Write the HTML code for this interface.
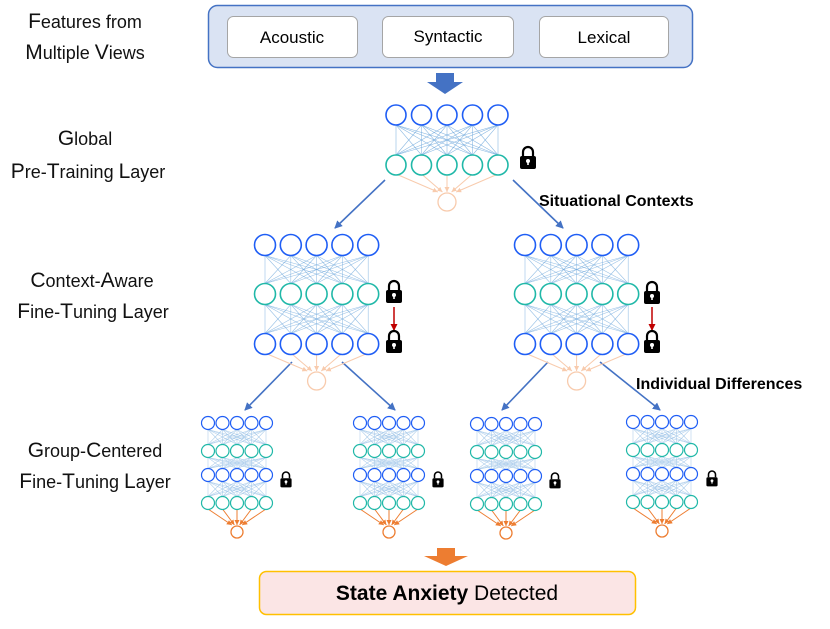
<!DOCTYPE html>
<html><head><meta charset="utf-8"><style>
html,body{margin:0;padding:0;background:#fff;width:830px;height:629px;overflow:hidden}
svg{display:block}
text{font-family:"Liberation Sans",sans-serif}
</style></head><body>
<svg id="s" width="830" height="629" viewBox="0 0 830 629" xmlns="http://www.w3.org/2000/svg">
<defs>
<marker id="ab" markerWidth="8" markerHeight="8" refX="7" refY="4" orient="auto" markerUnits="userSpaceOnUse"><path d="M0,0L8,4L0,8z" fill="#4472c4"/></marker>
<marker id="ar" markerWidth="7" markerHeight="7" refX="6" refY="3.5" orient="auto" markerUnits="userSpaceOnUse"><path d="M0,0L7,3.5L0,7z" fill="#c00000"/></marker>
<marker id="ao" markerWidth="5" markerHeight="5" refX="5" refY="2.5" orient="auto" markerUnits="userSpaceOnUse"><path d="M0,0L5,2.5L0,5z" fill="#ed7d31"/></marker>
<marker id="ap" markerWidth="5" markerHeight="5" refX="5" refY="2.5" orient="auto" markerUnits="userSpaceOnUse"><path d="M0,0L5,2.5L0,5z" fill="#f8cbad"/></marker>
</defs>
<rect x="208.5" y="5.5" width="484" height="62" rx="9" fill="#dae3f3" stroke="#4472c4" stroke-width="1.5"/>
<rect x="227.5" y="16.5" width="130" height="41" rx="6" fill="#fff" stroke="#a5a5a5"/>
<rect x="382.5" y="16.5" width="131" height="41" rx="6" fill="#fff" stroke="#a5a5a5"/>
<rect x="539.5" y="16.5" width="129" height="41" rx="6" fill="#fff" stroke="#a5a5a5"/>
<text x="292" y="43" font-size="17" text-anchor="middle">Acoustic</text>
<text x="448" y="42" font-size="17" text-anchor="middle">Syntactic</text>
<text x="604" y="43" font-size="17" text-anchor="middle">Lexical</text>
<path d="M436,73h18v9h9l-18,12l-18,-12h9z" fill="#4472c4"/>
<path d="M437,548h18v8h13l-22,10l-22,-10h13z" fill="#ed7d31"/>
<rect x="259.5" y="571.5" width="376" height="43" rx="7" fill="#fbe5e5" stroke="#ffc000" stroke-width="1.5"/>
<text x="447" y="600" font-size="21" text-anchor="middle"><tspan font-weight="bold">State Anxiety</tspan> Detected</text>
<g font-size="18" text-anchor="middle" fill="#111">
<text x="85" y="28"><tspan font-size="21">F</tspan>eatures from</text>
<text x="85" y="59"><tspan font-size="21">M</tspan>ultiple <tspan font-size="21">V</tspan>iews</text>
<text x="85" y="145"><tspan font-size="21">G</tspan>lobal</text>
<text x="88" y="178"><tspan font-size="21">P</tspan>re-<tspan font-size="21">T</tspan>raining <tspan font-size="21">L</tspan>ayer</text>
<text x="92" y="287"><tspan font-size="21">C</tspan>ontext-<tspan font-size="21">A</tspan>ware</text>
<text x="93" y="318"><tspan font-size="21">F</tspan>ine-<tspan font-size="21">T</tspan>uning <tspan font-size="21">L</tspan>ayer</text>
<text x="95" y="457"><tspan font-size="21">G</tspan>roup-<tspan font-size="21">C</tspan>entered</text>
<text x="95" y="488"><tspan font-size="21">F</tspan>ine-<tspan font-size="21">T</tspan>uning <tspan font-size="21">L</tspan>ayer</text>
</g>
<text x="539" y="206" font-size="16" font-weight="bold">Situational Contexts</text>
<text x="636" y="389" font-size="16" font-weight="bold">Individual Differences</text>
<g stroke="#4472c4" stroke-width="1.6" marker-end="url(#ab)">
<line x1="385" y1="180" x2="335" y2="228"/>
<line x1="513" y1="180" x2="563" y2="228"/>
<line x1="292" y1="362" x2="245" y2="410"/>
<line x1="342" y1="362" x2="395" y2="410"/>
<line x1="548" y1="362" x2="502" y2="410"/>
<line x1="600" y1="362" x2="660" y2="410"/>
</g>
<line x1="394" y1="307" x2="394" y2="330" stroke="#c00000" stroke-width="1.5" marker-end="url(#ar)"/>
<line x1="652" y1="307" x2="652" y2="330" stroke="#c00000" stroke-width="1.5" marker-end="url(#ar)"/>
<g id="g"></g>
</svg>
<script>
var g=document.getElementById('g'),h='';
var B='#1f5ef5',C='#20b8a8';
function xs(x0,d){var a=[];for(var i=0;i<5;i++)a.push(x0+i*d);return a;}
function conn(xa,ya,xb,yb,r,col,op){for(var i=0;i<5;i++)for(var j=0;j<5;j++)h+='<line x1="'+xa[i]+'" y1="'+(ya+r)+'" x2="'+xb[j]+'" y2="'+(yb-r)+'" stroke="'+col+'" stroke-width="0.6" opacity="'+op+'"/>';}
function row(x,y,r,col,sw){x.forEach(function(c){h+='<circle cx="'+c+'" cy="'+y+'" r="'+r+'" fill="#fff" stroke="'+col+'" stroke-width="'+sw+'"/>';});}
function out(x,y,ox,oy,r,col,m){x.forEach(function(c){h+='<line x1="'+c+'" y1="'+(y+r)+'" x2="'+(ox+(c-ox)*0.18)+'" y2="'+(oy-r-1)+'" stroke="'+col+'" stroke-width="1" marker-end="url(#'+m+')"/>';});h+='<circle cx="'+ox+'" cy="'+oy+'" r="'+r+'" fill="#fff" stroke="'+col+'" stroke-width="1.3"/>';}
function lock(x,y,s){h+='<g transform="translate('+x+','+y+') scale('+s+')"><path d="M-5,-1v-4a5,5 0 0 1 10,0v4" fill="none" stroke="#000" stroke-width="2.2"/><rect x="-8" y="-1" width="16" height="13" rx="2" fill="#000"/><circle cx="0" cy="4" r="2" fill="#fff"/><rect x="-0.8" y="4" width="1.6" height="4" fill="#fff"/></g>';}
var gx=xs(396,25.5);
conn(gx,115,gx,165,10,'#6fa8dc',0.8);
out(gx,165,447,202,9,'#f8cbad','ap');
row(gx,115,10,B,1.6);row(gx,165,10,C,1.6);
lock(528,157,1);
[[265,293],[525,293]].forEach(function(p){var x=xs(p[0],25.8);
conn(x,245,x,294,10.5,'#6fa8dc',0.7);conn(x,294,x,344,10.5,'#6fa8dc',0.7);
out(x,344,x[2],381,9,'#f8cbad','ap');
row(x,245,10.5,B,1.6);row(x,294,10.5,C,1.6);row(x,344,10.5,B,1.6);});
lock(394,291,1);lock(394,341,1);lock(652,292,1);lock(652,341,1);
[[208,423,286],[360,423,438],[477,424,555],[633,422,712]].forEach(function(p){var x=xs(p[0],14.5),y=p[1];
var ys=[y,y+28,y+52,y+80];
conn(x,ys[0],x,ys[1],6.5,'#9fc5e8',0.8);conn(x,ys[1],x,ys[2],6.5,'#9fc5e8',0.8);conn(x,ys[2],x,ys[3],6.5,'#9fc5e8',0.8);
out(x,ys[3],x[2],y+109,6,'#ed7d31','ao');
row(x,ys[0],6.5,B,1.2);row(x,ys[1],6.5,C,1.2);row(x,ys[2],6.5,B,1.2);row(x,ys[3],6.5,C,1.2);
lock(p[2],y+56,0.7);});
g.innerHTML=h;
</script>
</body></html>
